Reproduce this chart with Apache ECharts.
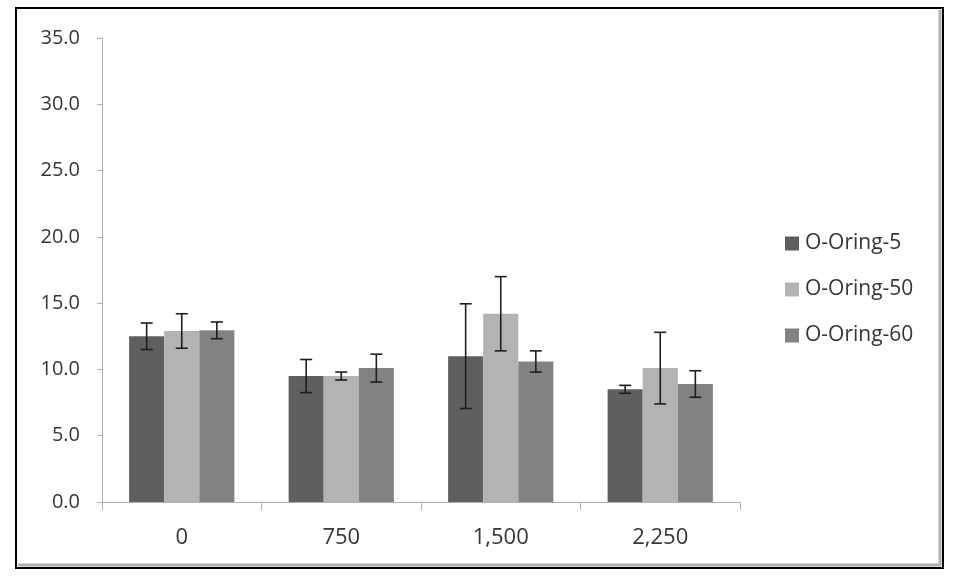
<!DOCTYPE html>
<html>
<head>
<meta charset="utf-8">
<script src="https://cdn.jsdelivr.net/npm/echarts@6/dist/echarts.min.js"></script>
<style>html,body{margin:0;padding:0;background:#fff}#c{width:955px;height:582px}</style>
</head>
<body>
<div id="c"></div>
<script>
var categories = ['0', '750', '1,500', '2,250'];
var seriesNames = ['O-Oring-5', 'O-Oring-50', 'O-Oring-60'];
var oring5 = [12.5, 9.5, 11.0, 8.5];
var oring50 = [12.9, 9.5, 14.2, 10.1];
var oring60 = [12.95, 10.1, 10.6, 8.9];
var err5 = [1.0, 1.25, 3.95, 0.3];
var err50 = [1.3, 0.3, 2.8, 2.7];
var err60 = [0.63, 1.05, 0.8, 1.0];
var yTicks = [0, 5, 10, 15, 20, 25, 30, 35];

var values = [oring5, oring50, oring60];
var errs = [err5, err50, err60];
var colors = ['#5f5f5f', '#b3b3b3', '#828282'];
var FONT = '"Open Sans"';
var gapFrac = 0.34;

var chart = echarts.init(document.getElementById('c'));
var series = [];
values.forEach(function (vals, si) {
  series.push({
    name: seriesNames[si], type: 'bar', data: vals,
    barGap: 0, barCategoryGap: (gapFrac * 100) + '%',
    itemStyle: { color: colors[si] }
  });
});
values.forEach(function (vals, si) {
  var d = vals.map(function (v, i) { return [i, v - errs[si][i], v + errs[si][i]]; });
  series.push({
    type: 'custom', silent: true, z: 5,
    data: d,
    encode: { x: 0, y: [1, 2] },
    renderItem: function (params, api) {
      var band = api.size([1, 0])[0];
      var barW = band * (1 - gapFrac) / 3;
      var base = api.coord([api.value(0), api.value(1)]);
      var top = api.coord([api.value(0), api.value(2)]);
      var x = base[0] + (si - 1) * barW;
      var cap = 6;
      var st = { stroke: '#1e1e1e', lineWidth: 1.6 };
      return { type: 'group', children: [
        { type: 'line', shape: { x1: x, y1: base[1], x2: x, y2: top[1] }, style: st },
        { type: 'line', shape: { x1: x - cap, y1: base[1], x2: x + cap, y2: base[1] }, style: st },
        { type: 'line', shape: { x1: x - cap, y1: top[1], x2: x + cap, y2: top[1] }, style: st }
      ]};
    }
  });
});

chart.setOption({
  animation: false,
  backgroundColor: '#fff',
  textStyle: { fontFamily: FONT },
  grid: { left: 102, right: 215, top: 38, bottom: 80 },
  legend: {
    orient: 'vertical', left: 780, top: 228,
    itemWidth: 14, itemHeight: 14, itemGap: 25,
    icon: 'rect',
    data: seriesNames,
    textStyle: { fontSize: 21, lineHeight: 21, color: '#363636', fontFamily: FONT, padding: [0, 0, 0, 1] }
  },
  xAxis: {
    type: 'category', data: categories,
    axisLine: { lineStyle: { color: '#b0b0b0', width: 1 } },
    axisTick: { show: true, length: 8, lineStyle: { color: '#b0b0b0' } },
    axisLabel: { fontSize: 22, color: '#363636', margin: 25, fontFamily: FONT },
    splitLine: { show: false }
  },
  yAxis: {
    type: 'value', min: 0, max: 35, interval: 5,
    axisLine: { show: true, lineStyle: { color: '#b0b0b0', width: 1 } },
    axisTick: { show: true, length: 5, lineStyle: { color: '#b0b0b0' } },
    axisLabel: { fontSize: 20, color: '#363636', margin: 22, fontFamily: FONT,
      formatter: function (v) { return yTicks.indexOf(v) >= 0 ? v.toFixed(1) : ''; } },
    splitLine: { show: false }
  },
  graphic: [
    { type: 'rect', shape: { x: 16, y: 8, width: 927, height: 560 }, style: { fill: 'none', stroke: '#000', lineWidth: 2 }, z: 100 },
    { type: 'line', shape: { x1: 940, y1: 10, x2: 940, y2: 565 }, style: { stroke: '#b0b0b0', lineWidth: 3 }, z: 100 },
    { type: 'line', shape: { x1: 18, y1: 565, x2: 941, y2: 565 }, style: { stroke: '#b0b0b0', lineWidth: 3 }, z: 100 }
  ],
  series: series
});
</script>
</body>
</html>
